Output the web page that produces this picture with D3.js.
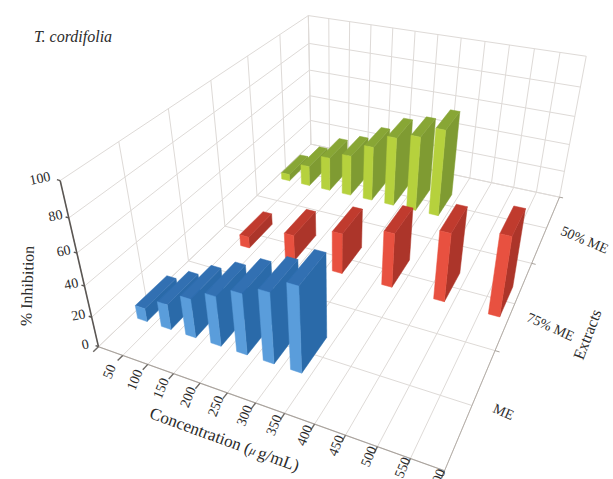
<!DOCTYPE html>
<html>
<head>
<meta charset="utf-8">
<title>T. cordifolia</title>
<script src="https://cdnjs.cloudflare.com/ajax/libs/d3/7.8.5/d3.min.js"></script>
<style>
    html, body { margin: 0; padding: 0; background: #fff; overflow: hidden; }
    text { font-family: "Liberation Serif", serif; fill: #2b2b2b; }
</style>
</head>
<body>
<div id="chart"></div>
<script>
// data
const concentrations = [50, 100, 150, 200, 250, 300, 350, 400, 450, 500, 550, 600];
const extracts = ["ME", "75% ME", "50% ME"];
const zTicks = [0, 20, 40, 60, 80, 100];

const valuesME = [9, 17, 26, 33, 40, 46, 55, null, null, null, null, null];
const values75 = [null, 8, null, 18, null, 28, null, 37, null, 46, null, 53];
const values50 = [5, 15, 25, 30, 40, 50, 54, 62, null, null, null, null];

const seriesValues = [valuesME, values75, values50];
const front = ["#5a9ddb", "#e8513f", "#b6d13e"];
const side = ["#2b6ba9", "#ac3429", "#7f9b31"];
const topFace = ["#306fb2", "#c03a2f", "#88a636"];

const width = 613, height = 479;

// camera fit: known chart corners -> screen position
const anchors = [
    [0, 0, 0, 98, 347], [0, 0, 100, 61, 182], [12, 0, 0, 443, 472], [6, 0, 0, 257, 404],
    [0, 6, 0, 311, 148], [0, 6, 100, 308, 14], [12, 6, 0, 560, 197], [12, 6, 100, 586, 57],
    [0, 2, 0, 188, 259], [0, 4, 0, 257, 193], [12, 2, 0, 495, 350], [12, 4, 0, 532, 262]
];

const sx = d3.scaleLinear().domain([0, concentrations.length]).range([0, 1]);
const sy = d3.scaleLinear().domain([0, 6]).range([0, 1]);
const sz = d3.scaleLinear().domain([0, 100]).range([0, 1]);

function fitCamera() {
    let rows = [], rhs = [];
    anchors.forEach(a => {
        let X = sx(a[0]), Y = sy(a[1]), Z = sz(a[2]), u = a[3], v = a[4];
        rows.push([X, Y, Z, 1, 0, 0, 0, 0, -u * X, -u * Y, -u * Z]); rhs.push(u);
        rows.push([0, 0, 0, 0, X, Y, Z, 1, -v * X, -v * Y, -v * Z]); rhs.push(v);
    });
    // normal equations
    let n = 11, A = d3.range(n).map(i => d3.range(n + 1).map(j => {
        if (j === n) return d3.sum(rows, (r, k) => r[i] * rhs[k]);
        return d3.sum(rows, r => r[i] * r[j]);
    }));
    for (let i = 0; i < n; i++) {
        let p = i;
        for (let k = i + 1; k < n; k++) if (Math.abs(A[k][i]) > Math.abs(A[p][i])) p = k;
        [A[i], A[p]] = [A[p], A[i]];
        for (let k = 0; k < n; k++) {
            if (k === i) continue;
            let f = A[k][i] / A[i][i];
            for (let j = i; j <= n; j++) A[k][j] -= f * A[i][j];
        }
    }
    return A.map((r, i) => r[n] / r[i]);
}
const m = fitCamera();

function project(x, y, z) {
    let X = sx(x), Y = sy(y), Z = sz(z);
    let w = m[8] * X + m[9] * Y + m[10] * Z + 1;
    return [(m[0] * X + m[1] * Y + m[2] * Z + m[3]) / w, (m[4] * X + m[5] * Y + m[6] * Z + m[7]) / w];
}

const svg = d3.select("#chart").append("svg")
    .attr("width", width)
    .attr("height", height)
    .style("display", "block");

// the source is a soft scan, bars get a very small blur
svg.append("defs").append("filter")
    .attr("id", "soft")
    .append("feGaussianBlur")
    .attr("stdDeviation", 0.4);

const line = d3.line();
const nx = concentrations.length, ny = 6;

function seg(g, a, b, color, w) {
    g.append("path")
        .attr("d", line([project(...a), project(...b)]))
        .attr("stroke", color)
        .attr("stroke-width", w)
        .attr("fill", "none");
}

// grid
const grid = svg.append("g");
const gridColor = "#dedad7";
d3.range(nx + 1).forEach(i => {
    seg(grid, [i, 0, 0], [i, 6, 0], gridColor, 1);
    seg(grid, [i, 6, 0], [i, 6, 100], gridColor, 1);
});
d3.range(ny + 1).forEach(j => {
    seg(grid, [0, j, 0], [nx, j, 0], gridColor, 1);
    seg(grid, [0, j, 0], [0, j, 100], gridColor, 1);
});
zTicks.forEach(t => {
    seg(grid, [0, 0, t], [0, 6, t], gridColor, 1);
    seg(grid, [0, 6, t], [nx, 6, t], gridColor, 1);
});

// axes
const axes = svg.append("g");
seg(axes, [0, 0, 0], [nx, 0, 0], "#a9a39d", 1.2);
seg(axes, [nx, 0, 0], [nx, 6, 0], "#b5afa9", 1);
seg(axes, [0, 0, 0], [0, 0, 100], "#5a5653", 1.6);
zTicks.forEach(t => seg(axes, [0, 0, t], [-0.12, 0, t], "#5a5653", 1.4));
d3.range(nx + 1).forEach(i => seg(axes, [i, 0, 0], [i, -0.1, 0], "#6d6965", 1.4));
[2, 4, 6].forEach(j => seg(axes, [nx, j, 0], [nx + 0.15, j, 0], "#a9a39d", 1));

// bars, back row first
const barGap = 0.3, depthFrom = 0.65, depthTo = 1.35;
d3.range(extracts.length).reverse().forEach(row => {
    const g = svg.append("g").attr("class", "row-" + row).attr("filter", "url(#soft)");
    seriesValues[row].forEach((v, i) => {
        if (v === null) return;
        let x0 = i + barGap, x1 = i + 1 - barGap;
        let y0 = row * 2 + depthFrom, y1 = row * 2 + depthTo;
        let faces = [
            {pts: [[x1, y0, 0], [x1, y1, 0], [x1, y1, v], [x1, y0, v]], color: side[row]},
            {pts: [[x0, y0, v], [x1, y0, v], [x1, y1, v], [x0, y1, v]], color: topFace[row]},
            {pts: [[x0, y0, 0], [x1, y0, 0], [x1, y0, v], [x0, y0, v]], color: front[row]}
        ];
        g.selectAll(null)
            .data(faces)
            .enter().append("path")
            .attr("d", d => line(d.pts.map(p => project(...p))) + "Z")
            .attr("fill", d => d.color)
            .attr("stroke", d => d.color)
            .attr("stroke-width", 0.5)
            .attr("stroke-linejoin", "round");
    });
});

// labels
function label(str, x, y, rot, size, style) {
    return svg.append("text")
        .attr("transform", `translate(${x},${y}) rotate(${rot})`)
        .attr("text-anchor", "middle")
        .attr("dominant-baseline", "middle")
        .style("font-size", size + "px")
        .style("font-style", style || "normal")
        .text(str);
}

concentrations.forEach((c, i) => {
    let p = project(0.5 + i * 1.03, 0, 0);
    label(c, p[0], p[1] + 21 - i * 0.9, -68, 14);
});
zTicks.forEach(t => {
    let p = project(0, 0, t);
    label(t, p[0] - 13 - (t === 100 ? 7 : 0), p[1] - 1, -12, 14);
});

label("T. cordifolia", 73, 38, 0, 16, "italic");
label("% Inhibition", 29, 286, -88, 16);
label("50% ME", 584, 241, 23, 14);
label("75% ME", 550, 328, 24, 14);
label("ME", 503, 413, 24, 14);
label("Extracts", 589, 335, -69, 16);

const xTitle = label("", 224, 441, 20, 17);
xTitle.append("tspan").text("Concentration (");
xTitle.append("tspan").style("font-style", "italic").style("font-size", "12px").text("μ ");
xTitle.append("tspan").text("g/mL)");
</script>
</body>
</html>
